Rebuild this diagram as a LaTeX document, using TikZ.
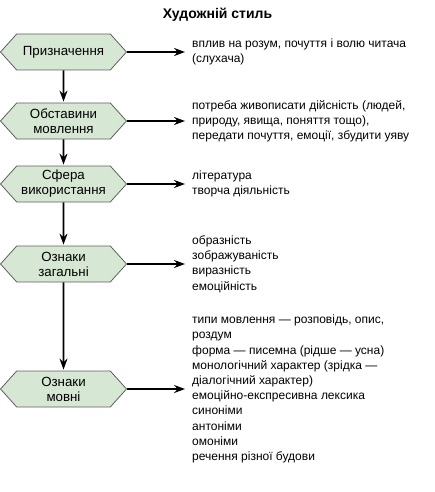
\documentclass[tikz,border=0pt]{standalone}
\usepackage{fontspec}
\setmainfont{Liberation Sans}
\usetikzlibrary{arrows.meta,positioning,shapes.symbols}
\definecolor{hexgreen}{RGB}{214,232,212}
\definecolor{hexline}{RGB}{95,95,95}

\begin{document}
\begin{tikzpicture}[x=1pt,y=-1pt,>={Stealth[length=11pt,width=8pt]},
  every node/.style={font=\fontsize{12}{15.2}\selectfont},
  stage/.style={signal,signal to=west and east,signal pointer angle=96,
    draw=hexline,fill=hexgreen,line width=0.8pt,minimum width=126pt,
    minimum height=36pt,inner sep=1pt,align=center,
    font=\fontsize{13.3}{15}\selectfont},
  info/.style={align=left,inner sep=0pt},
  link/.style={->,line width=1.6pt,shorten >=7pt},
  down/.style={->,line width=1.6pt,shorten >=1pt}]
  \useasboundingbox (0,0) rectangle (435,492);
  \node[font=\bfseries\fontsize{14}{16}\selectfont] (title) at (217.5,15) {Художній стиль};
  % stages on the left
  \node[stage] (purpose) at (63.5,52) {Призначення};
  \node[stage] (setting) at (63.5,121) {Обставини\\мовлення};
  \node[stage] (sphere) at (63.5,184) {Сфера\\використання};
  \node[stage] (general) at (63.5,264) {Ознаки\\загальні};
  \node[stage] (lingual) at (63.5,389) {Ознаки\\мовні};
  % descriptions on the right
  \node[info,right=65pt of purpose] (purposetxt) {вплив на розум, почуття і волю читача\\(слухача)};
  \node[info,right=65pt of setting] (settingtxt) {потреба живописати дійсність (людей,\\природу, явища, поняття тощо),\\передати почуття, емоції, збудити уяву};
  \node[info,right=65pt of sphere] (spheretxt) {література\\творча діяльність};
  \node[info,right=65pt of general] (generaltxt) {образність\\зображуваність\\виразність\\емоційність};
  \node[info,right=65pt of lingual] (lingualtxt) {типи мовлення — розповідь, опис,\\роздум\\форма — писемна (рідше — усна)\\монологічний характер (зрідка —\\діалогічний характер)\\емоційно-експресивна лексика\\синоніми\\антоніми\\омоніми\\речення різної будови};
  \path[down]
    (purpose) edge (setting)
    (setting) edge (sphere)
    (sphere) edge (general)
    (general) edge (lingual);
  \path[link]
    (purpose) edge (purposetxt)
    (setting) edge (settingtxt)
    (sphere) edge (spheretxt)
    (general) edge (generaltxt)
    (lingual) edge (lingualtxt);
\end{tikzpicture}
\end{document}
